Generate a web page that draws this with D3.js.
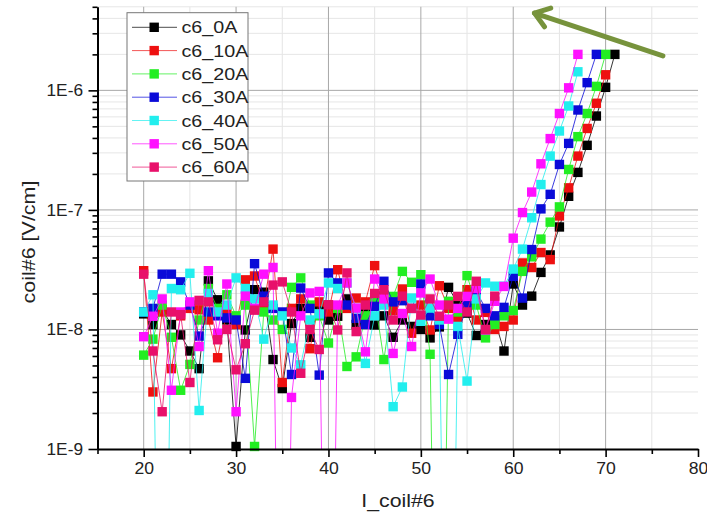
<!DOCTYPE html>
<html>
<head>
<meta charset="utf-8">
<script src="https://cdn.jsdelivr.net/npm/d3@7"></script>
<style>
  html, body { margin: 0; padding: 0; background: #fff; }
  svg { display: block; font-family: "Liberation Sans", Arial, sans-serif; }
</style>
</head>
<body>
<svg id="chart" width="707" height="518"></svg>
<script>
// ---------- data ----------
const I_coil = [20,21,22,23,24,25,26,27,28,29,30,31,32,33,34,35,36,37,38,39,40,41,42,43,44,45,46,47,48,49,50,51,52,53,54,55,56,57,58,59,60,61,62,63,64,65,66,67,68,69,70,71];

const c6_0A = [1.35e-8,1.1e-8,1.46e-8,1.1e-8,9e-9,6.6e-9,4.7e-9,2.55e-8,1.77e-8,1.2e-8,
  1.05e-9,9.9e-9,2.15e-8,2.05e-8,5.6e-9,3.2e-9,1.12e-8,1.5e-8,8.6e-9,1.6e-8,
  1.2e-8,1.29e-8,1.8e-8,1.1e-8,1.46e-8,1.09e-8,1.3e-8,8.6e-9,1.2e-8,1.06e-8,
  1.0e-8,8.5e-9,1.05e-8,2.25e-8,1.63e-8,1.37e-8,8.9e-9,1.1e-8,1.2e-8,6.6e-9,
  2.4e-8,1.6e-8,1.9e-8,3.0e-8,4.2e-8,7.2e-8,1.3e-7,2.06e-7,3.47e-7,6.1e-7,
  1.06e-6,2.0e-6];
const c6_10A = [3.1e-8,3.0e-9,1.4e-8,4.7e-9,1.3e-8,1.5e-8,1.46e-8,1.2e-8,5.8e-9,1.4e-8,
  1.1e-8,2.6e-8,2.8e-8,1.6e-8,4.7e-8,3.6e-9,1.5e-8,1.8e-8,6.9e-9,1.7e-8,
  1.4e-8,3.16e-8,1.5e-8,1.83e-8,1.7e-8,3.42e-8,1.9e-8,1.44e-8,2.18e-8,9.3e-9,
  1.6e-8,9.9e-9,2.32e-8,1.5e-8,1.24e-8,2.15e-8,1.2e-8,1.39e-8,1.0e-8,1.06e-8,
  1.2e-8,3.6e-8,3.3e-8,4.4e-8,3.84e-8,8.9e-8,1.53e-7,2.82e-7,4.8e-7,7.8e-7,
  1.35e-6];
const c6_20A = [6.1e-9,8.3e-9,1.6e-8,8.6e-9,3.1e-9,5.1e-9,1.2e-8,2.2e-8,1.5e-8,1.95e-8,
  1.3e-8,1.6e-8,1.05e-9,1.4e-8,1.2e-8,1.0e-8,2.25e-8,2.7e-8,1.6e-8,1.3e-8,
  7.7e-9,1.5e-8,4.9e-9,5.9e-9,1.3e-8,1.8e-8,5.6e-9,1.89e-8,3.06e-8,2.48e-8,
  2.87e-8,6.2e-9,1e-13,1.72e-8,1.4e-8,2.82e-8,1.6e-8,8.5e-9,1.1e-8,1.3e-8,
  1.44e-8,3.06e-8,4.05e-8,5.7e-8,7.9e-8,1.06e-7,2.18e-7,4.1e-7,6.4e-7,1.08e-6,
  2.0e-6];
const c6_30A = [1.4e-8,1.5e-8,2.9e-8,2.9e-8,2.5e-8,1.6e-8,8.8e-9,1.4e-8,1.3e-8,1.25e-8,
  1.2e-8,3.9e-9,3.55e-8,1.9e-8,1.5e-8,1.4e-8,4.2e-9,2.22e-8,1.5e-8,4.15e-9,
  2.97e-8,2.45e-8,1.6e-8,1.24e-8,1.1e-8,1.56e-8,2.53e-8,1.7e-8,1.74e-8,1.5e-8,
  2.4e-8,1.3e-8,1.1e-8,4.2e-9,9.1e-9,1.6e-8,2.08e-8,1.5e-8,1.3e-8,1.53e-8,
  2.78e-8,1.83e-8,4.66e-8,1.02e-7,1.35e-7,2.4e-7,3.6e-7,6.85e-7,1.16e-6,2.0e-6];
const c6_40A = [1.4e-8,1.95e-8,1e-13,2.2e-8,2.15e-8,2.95e-8,2.1e-9,2.0e-8,1.4e-8,1.6e-8,
  2.7e-8,2.2e-8,1.8e-8,8.3e-9,1.6e-8,1.3e-8,7e-9,5.06e-9,1.2e-8,1.35e-8,
  2.45e-8,2.2e-8,2.45e-8,1.5e-8,5.2e-9,1.3e-8,1.6e-8,2.26e-9,3.3e-9,1.83e-8,
  1.17e-8,1.51e-8,1.2e-8,1e-13,1.06e-8,3.7e-9,1.8e-8,2.45e-8,2.3e-8,2.3e-8,
  3.2e-8,4.7e-8,8.6e-8,1.63e-7,2.82e-7,4.57e-7,7.4e-7,1.43e-6];
const c6_50A = [8.7e-9,1.29e-8,1.8e-8,3.1e-9,1.4e-8,1.7e-8,7.2e-9,3.1e-8,9.3e-9,2.4e-8,
  2.05e-9,1.9e-8,1.5e-8,2.9e-8,3.3e-8,1e-13,2.7e-9,1.3e-8,2.02e-8,2.08e-8,
  1e-13,1.6e-8,2.45e-8,1.51e-8,6.5e-9,2.64e-8,1.8e-8,6.3e-9,1.36e-8,7.2e-9,
  2.02e-8,2.64e-8,1.6e-8,1.22e-8,1.5e-8,1.89e-8,2.2e-8,9.9e-9,1.72e-8,2.29e-8,
  5.8e-8,9.5e-8,1.41e-7,2.43e-7,3.95e-7,6.4e-7,1.05e-6,2.0e-6];
const c6_60A = [2.9e-8,6.6e-9,2.05e-9,1.4e-8,1.33e-8,3.6e-9,1.75e-8,1.7e-8,8.2e-9,1.0e-8,
  4.6e-9,7.6e-9,1.45e-8,1.7e-8,2.35e-8,2.5e-8,1.4e-8,4.3e-9,1.0e-8,6.8e-9,
  1.61e-8,9.9e-9,2.97e-8,9.6e-9,1.6e-8,2.0e-8,2.15e-8,1.2e-8,1.9e-8,1.5e-8,
  1.32e-8,1.8e-8,1.29e-8,1.6e-8,1.89e-8,1.4e-8,2.53e-8,1.0e-8,1.9e-8];

const seriesNames  = ["c6_0A","c6_10A","c6_20A","c6_30A","c6_40A","c6_50A","c6_60A"];
const seriesValues = [c6_0A, c6_10A, c6_20A, c6_30A, c6_40A, c6_50A, c6_60A];
const seriesColors = ["#000000","#ee1010","#22ee22","#0a0ad8","#22eeee","#ff10ff","#e8106a"];

const xMajorTicks = [20,30,40,50,60,70,80];
const xMinorTicks = [15,25,35,45,55,65,75];
const yMajorTicks = [1e-9,1e-8,1e-7,1e-6];
const yMinorTicks = [2e-9,3e-9,4e-9,5e-9,6e-9,7e-9,8e-9,9e-9,
                     2e-8,3e-8,4e-8,5e-8,6e-8,7e-8,8e-8,9e-8,
                     2e-7,3e-7,4e-7,5e-7,6e-7,7e-7,8e-7,9e-7,
                     2e-6,3e-6,4e-6,5e-6];
const xTitle = "I_coil#6";
const yTitle = "coil#6 [V/cm]";
// annotation arrow (tail -> head) in data coordinates
const arrowTail = [76.2, 1.94e-6];
const arrowHead = [62.3, 4.43e-6];

// ---------- layout ----------
const svg = d3.select("#chart");
const L = 97.5, R = 698, T = 6.8, B = 449;
const x = d3.scaleLinear().domain([15, 80]).range([L, R]);
const y = d3.scaleLog().domain([1e-9, 5e-6]).range([B, T]);
const TXT = "#222";

// grid
const grid = svg.append("g");
grid.selectAll(".vmin").data(xMinorTicks.filter(d => d > 15)).join("line")
  .attr("x1", d => x(d)).attr("x2", d => x(d)).attr("y1", T).attr("y2", B)
  .attr("stroke", "#e4e4e4").attr("stroke-width", 1);
grid.selectAll(".hmin").data(yMinorTicks).join("line")
  .attr("x1", L).attr("x2", R).attr("y1", d => y(d)).attr("y2", d => y(d))
  .attr("stroke", "#e6e6e6").attr("stroke-width", 1);
grid.selectAll(".vmaj").data(xMajorTicks.filter(d => d < 80)).join("line")
  .attr("x1", d => x(d)).attr("x2", d => x(d)).attr("y1", T).attr("y2", B)
  .attr("stroke", "#a8a8a8").attr("stroke-width", 1);
grid.selectAll(".hmaj").data(yMajorTicks.filter(d => d > 1e-9)).join("line")
  .attr("x1", L).attr("x2", R).attr("y1", d => y(d)).attr("y2", d => y(d))
  .attr("stroke", "#a8a8a8").attr("stroke-width", 1);

// clip for lines
svg.append("clipPath").attr("id", "plotclip").append("rect")
  .attr("x", L).attr("y", T - 6).attr("width", R - L).attr("height", B - T + 6);

const lineGen = d3.line().x(d => x(d[0])).y(d => y(d[1]));
const plot = svg.append("g");
seriesValues.forEach((vals, i) => {
  const pts = vals.map((v, j) => [I_coil[j], v]);
  const g = plot.append("g");
  g.append("path").datum(pts)
    .attr("d", lineGen).attr("fill", "none")
    .attr("stroke", seriesColors[i]).attr("stroke-width", 1).attr("stroke-opacity", 0.8)
    .attr("clip-path", "url(#plotclip)");
  g.selectAll("rect").data(pts.filter(p => p[1] >= 1e-9)).join("rect")
    .attr("x", d => x(d[0]) - 4.7).attr("y", d => y(d[1]) - 4.7)
    .attr("width", 9.4).attr("height", 9.4)
    .attr("fill", seriesColors[i]);
});

// axes
const xAxis = svg.append("g").attr("transform", `translate(0,${B})`)
  .call(d3.axisBottom(x).tickValues(xMajorTicks).tickSize(8).tickSizeOuter(0).tickPadding(6)
        .tickFormat(d3.format("d")));
xAxis.selectAll("text")
  .attr("font-size", 16).attr("fill", TXT)
  .attr("transform", "scale(1.1,1)");
const xAxisMinor = svg.append("g").attr("transform", `translate(0,${B})`)
  .call(d3.axisBottom(x).tickValues(xMinorTicks).tickSize(5).tickSizeOuter(0).tickFormat(""));
xAxisMinor.select(".domain").remove();

const yAxis = svg.append("g").attr("transform", `translate(${L},0)`)
  .call(d3.axisLeft(y).tickValues(yMajorTicks).tickSize(9).tickSizeOuter(0).tickPadding(5)
        .tickFormat(d => "1E" + Math.round(Math.log10(d))));
yAxis.selectAll("text")
  .attr("font-size", 16).attr("fill", TXT)
  .attr("x", 0).attr("transform", "translate(-14.5,0) scale(1.08,1)");
const yAxisMinor = svg.append("g").attr("transform", `translate(${L},0)`)
  .call(d3.axisLeft(y).tickValues(yMinorTicks).tickSize(5).tickSizeOuter(0).tickFormat(""));
yAxisMinor.select(".domain").remove();

svg.selectAll(".domain").attr("stroke", "#000").attr("stroke-width", 2);
svg.selectAll(".tick line").attr("stroke", "#000").attr("stroke-width", 1.6);

// axis titles
svg.append("text").attr("transform", "translate(398,507) scale(1.12,1)")
  .attr("text-anchor", "middle").attr("font-size", 19).attr("fill", TXT).text(xTitle);
svg.append("text").attr("transform", "translate(35,242) rotate(-90) scale(1.13,1)")
  .attr("text-anchor", "middle").attr("font-size", 19).attr("fill", TXT).text(yTitle);

// legend
const leg = svg.append("g");
leg.append("rect").attr("x", 127).attr("y", 12.7).attr("width", 121).attr("height", 168.3)
  .attr("fill", "#fff").attr("stroke", "#777").attr("stroke-width", 1);
seriesNames.forEach((name, i) => {
  const cy = 27.3 + i * 23.3;
  leg.append("line").attr("x1", 132).attr("x2", 177).attr("y1", cy).attr("y2", cy)
    .attr("stroke", seriesColors[i]).attr("stroke-width", 1).attr("stroke-opacity", 0.7);
  leg.append("rect").attr("x", 149.5).attr("y", cy - 4.7).attr("width", 9.4).attr("height", 9.4)
    .attr("fill", seriesColors[i]);
  leg.append("text").attr("transform", `translate(181.5,${cy + 6}) scale(1.16,1)`)
    .attr("font-size", 17).attr("fill", TXT).text(name);
});

// annotation arrow
const ax0 = x(arrowTail[0]), ay0 = y(arrowTail[1]);
const ax1 = x(arrowHead[0]), ay1 = y(arrowHead[1]);
const ang = Math.atan2(ay0 - ay1, ax0 - ax1);
const armLen = 17, spread = 0.62;
const arrowColor = "#77933c";
svg.append("line").attr("x1", ax0).attr("y1", ay0).attr("x2", ax1).attr("y2", ay1)
  .attr("stroke", arrowColor).attr("stroke-width", 5).attr("stroke-linecap", "round");
svg.append("path")
  .attr("d", `M${ax1 + armLen * Math.cos(ang + spread)},${ay1 + armLen * Math.sin(ang + spread)}
              L${ax1},${ay1}
              L${ax1 + armLen * Math.cos(ang - spread)},${ay1 + armLen * Math.sin(ang - spread)}`)
  .attr("fill", "none").attr("stroke", arrowColor).attr("stroke-width", 5)
  .attr("stroke-linecap", "round").attr("stroke-linejoin", "round");
</script>
</body>
</html>
